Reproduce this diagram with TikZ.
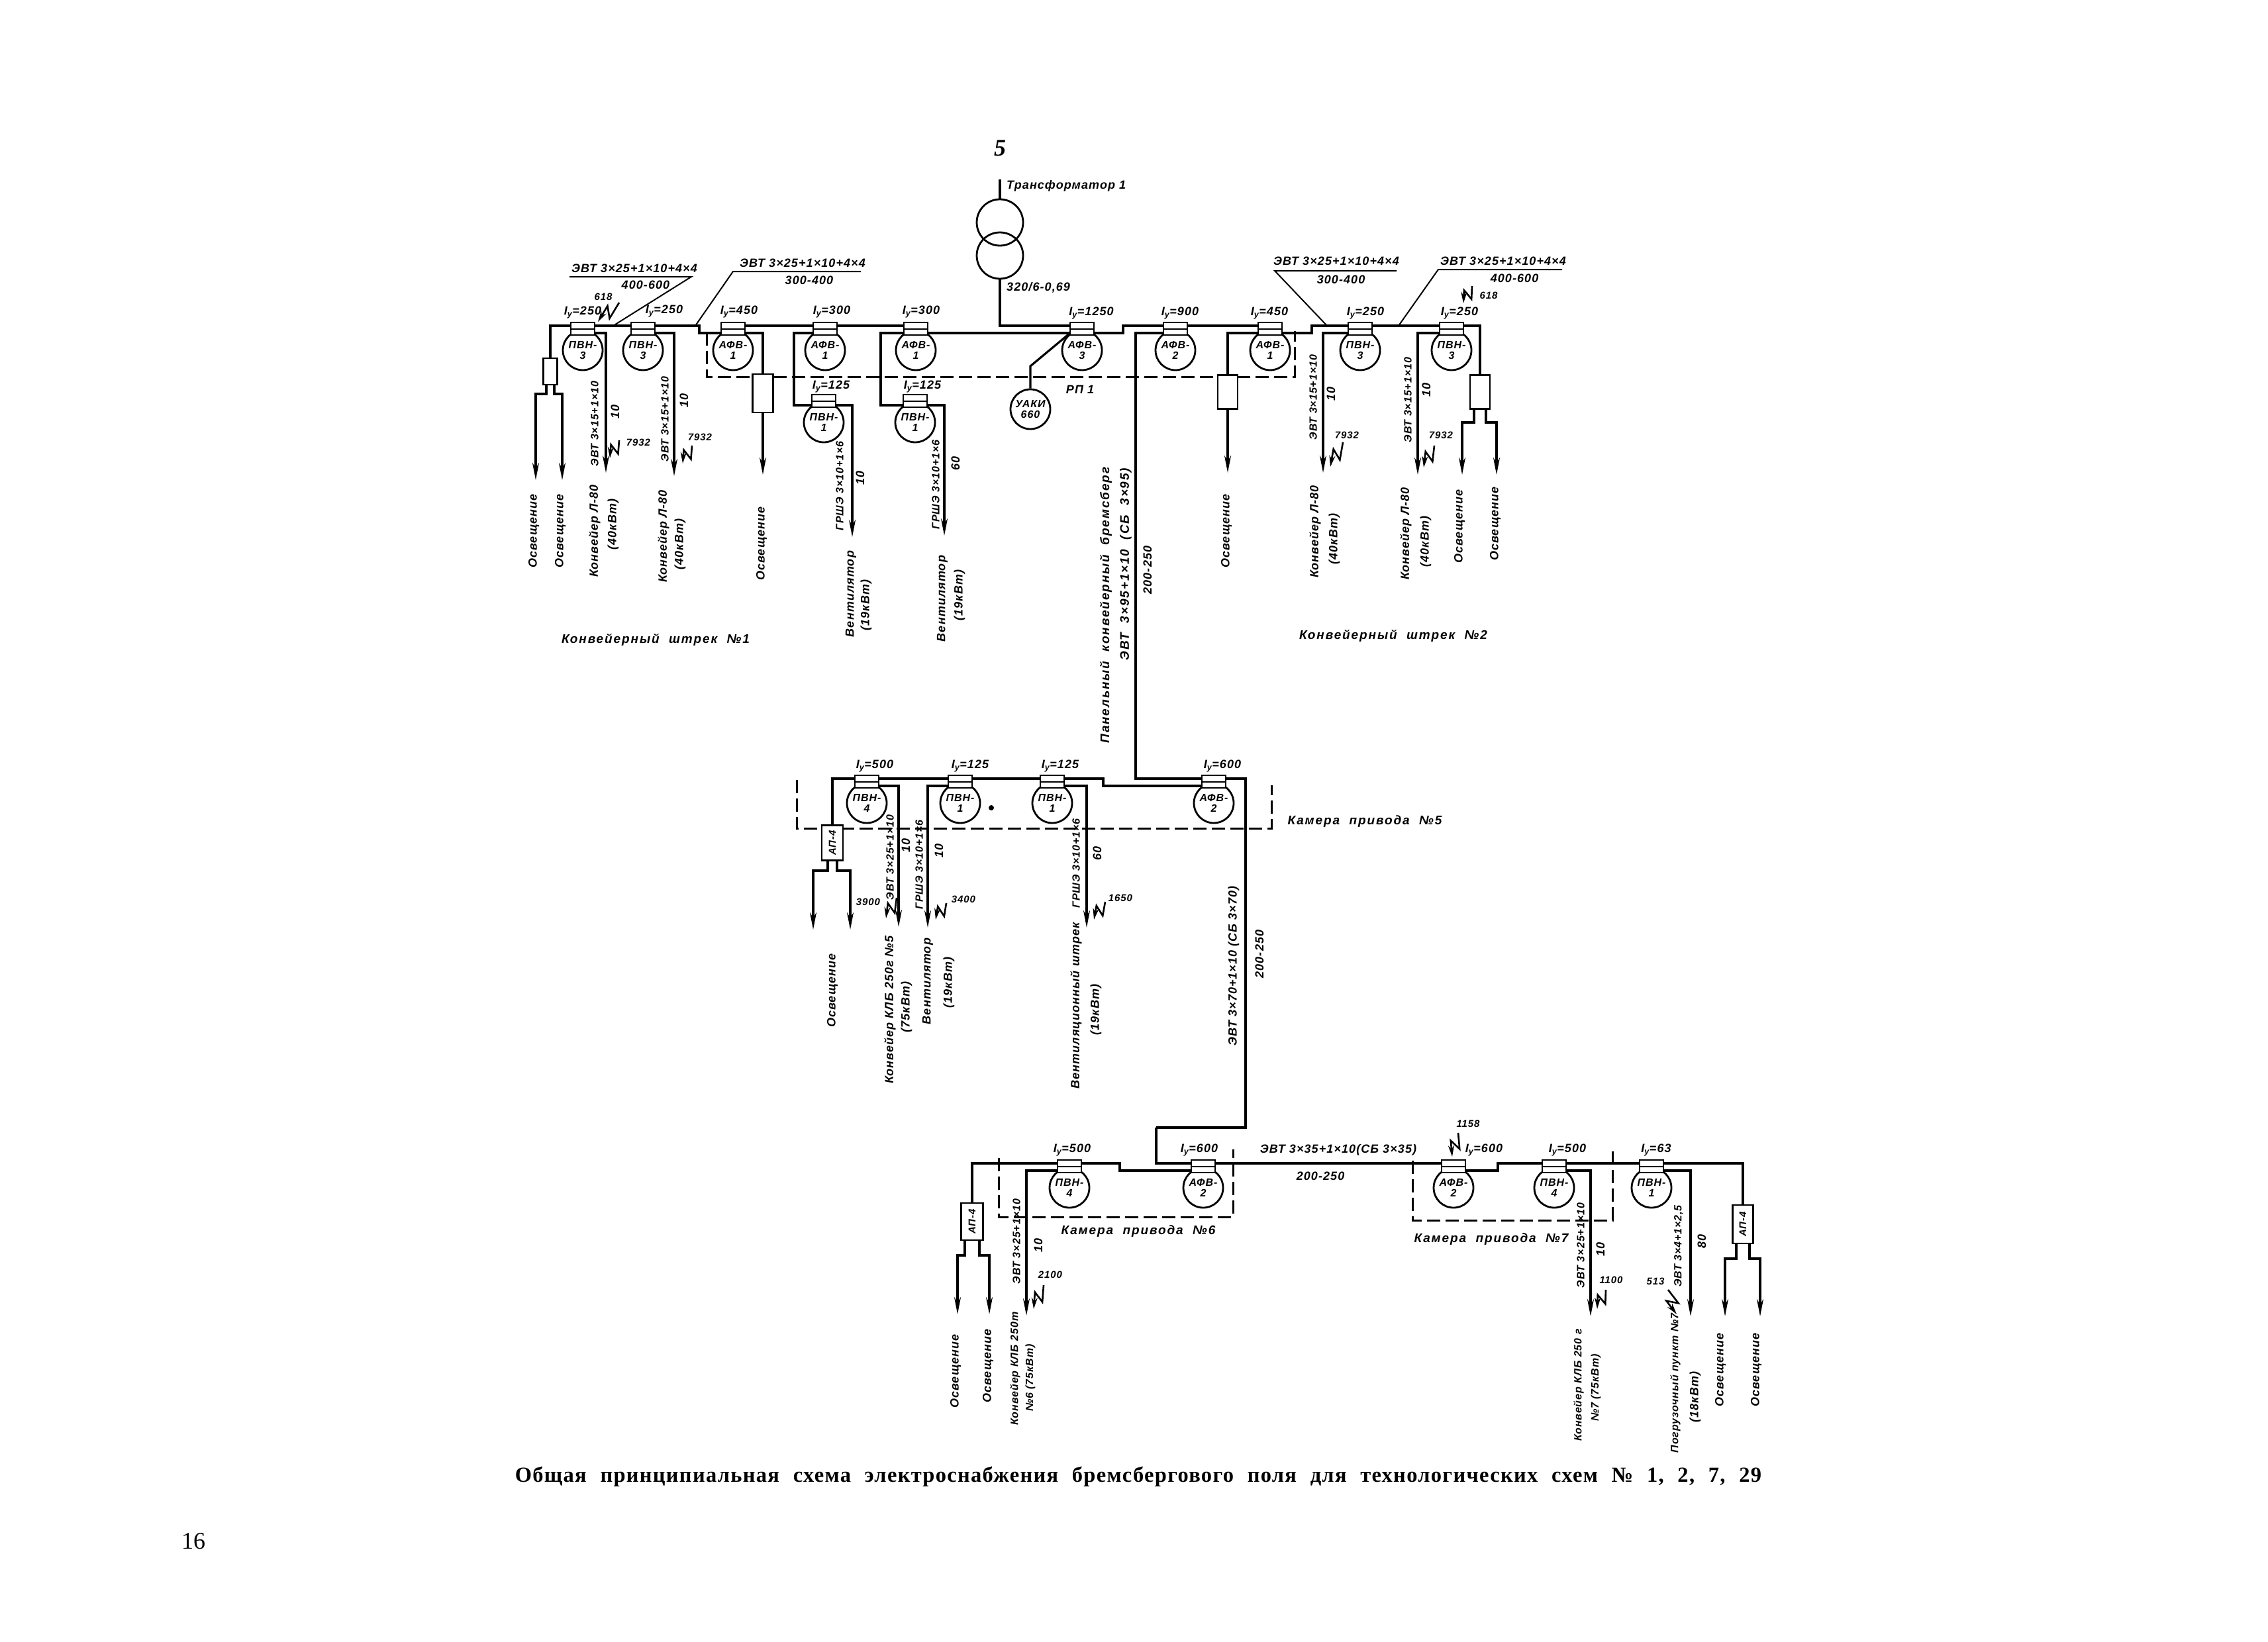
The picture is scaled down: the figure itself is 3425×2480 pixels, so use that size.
\documentclass[tikz,border=0pt]{standalone}
\usepackage{fontspec}
\setmainfont{Liberation Serif}
\newfontfamily\schem{Liberation Sans}[LetterSpace=6]
\newfontfamily\schemw{Liberation Sans}[LetterSpace=10,WordSpace=2]
\newfontfamily\capfont{Liberation Serif}[WordSpace=2.2,LetterSpace=4]
\usetikzlibrary{arrows.meta,calc}
\newcounter{labn}
\tikzset{
 txt/.style={inner sep=0pt,font=\schem\bfseries\itshape\fontsize{18}{20}\selectfont,align=center},
 narrowtxt/.style={inner sep=0pt,font=\schem\bfseries\itshape\fontsize{16}{18}\selectfont,align=center},
 widetxt/.style={inner sep=0pt,font=\schemw\bfseries\itshape\fontsize{19}{21}\selectfont,align=center},
 small/.style={inner sep=0pt,font=\schem\bfseries\itshape\fontsize{15}{16}\selectfont,align=center},
 wire/.style={line width=3.2pt,line join=miter},
 heavy/.style={line width=4.2pt},
 feed/.style={line width=3.2pt,-{Stealth[length=26pt,width=10pt]}},
 dash box/.style={line width=3pt,dash pattern=on 20pt off 8pt},
 bulbc/.style={circle,draw,line width=2.8pt,minimum size=60pt,inner sep=0pt,fill=white,font=\schem\bfseries\itshape\fontsize{16}{16}\selectfont,align=center},
 bulbb/.style={rectangle,draw,line width=2.6pt,minimum width=36pt,minimum height=19pt,inner sep=0pt,fill=white},
 lamp/.style={rectangle,draw,line width=2.8pt,inner sep=0pt,fill=white},
 leader/.style={line width=2pt},
 bolt line/.style={line width=2.6pt,-{Stealth[length=17pt,width=9pt]}}
}
\newcommand{\bulb}[5]{%
 \node[bulbc] (#1) at (#2,#3) {#4\\#5};
 \node[bulbb] (#1b) at (#2,#3-32.5) {};
 \draw[line width=2pt] (#1b.west) -- (#1b.east);
 \coordinate (#1ul) at (#2-18,#3-37);
 \coordinate (#1ur) at (#2+18,#3-37);
 \coordinate (#1ll) at (#2-18,#3-26);
 \coordinate (#1lr) at (#2+18,#3-26);
}
\newcommand{\lab}[3]{\stepcounter{labn}\node[txt] (h\thelabn) at (#1,#2) {#3};}
\newcommand{\vlab}[3]{\stepcounter{labn}\node[txt,rotate=90] (v\thelabn) at (#1,#2) {#3};}
\newcommand{\nvlab}[3]{\stepcounter{labn}\node[narrowtxt,rotate=90] (n\thelabn) at (#1,#2) {#3};}
\newcommand{\wlab}[3]{\stepcounter{labn}\node[widetxt] (w\thelabn) at (#1,#2) {#3};}
\newcommand{\wvlab}[3]{\stepcounter{labn}\node[widetxt,rotate=90] (y\thelabn) at (#1,#2) {#3};}
\newcommand{\slab}[3]{\stepcounter{labn}\node[small] (s\thelabn) at (#1,#2) {#3};}
\newcommand{\bolt}[4]{\stepcounter{labn}%
 \coordinate (ba\thelabn) at (#1,#2);
 \coordinate (bb\thelabn) at (#3,#4);
 \draw[bolt line] (ba\thelabn) -- ($(ba\thelabn)!.62!(bb\thelabn)!8pt!90:(bb\thelabn)$) -- ($(ba\thelabn)!.38!(bb\thelabn)!8pt!-90:(bb\thelabn)$) -- (bb\thelabn);}
% lamp box, two stubs, two arrows: name, left x, right x, y of bend, y of tip, half gap
\newcommand{\fork}[6]{%
 \coordinate (#1m1) at (#2,#4); \coordinate (#1m2) at (#3,#4);
 \coordinate (#1t1) at (#2,#5); \coordinate (#1t2) at (#3,#5);
 \draw[feed] ([xshift=-#6pt]#1.south) |- (#1m1) -- (#1t1);
 \draw[feed] ([xshift=#6pt]#1.south) |- (#1m2) -- (#1t2);}
\newcommand{\load}[4]{\coordinate (#2) at (#3,#4); \draw[feed] (#1) -| (#2);}
\begin{document}
\begin{tikzpicture}[x=1pt,y=-1pt]
\useasboundingbox (0,0) rectangle (3425,2480);
\fill[white] (0,0) rectangle (3425,2480);
% ---------- transformer
\node[circle,draw,line width=2.8pt,minimum size=70pt,inner sep=0pt] (tra) at (1510,336) {};
\node[circle,draw,line width=2.8pt,minimum size=70pt,inner sep=0pt] (trb) at (1510,386) {};
\coordinate (trtop) at (1510,271);
\draw[wire] (trtop) -- (tra.north);
\node[inner sep=0pt,font=\fontsize{36}{38}\selectfont\itshape\bfseries] (five) at (1510,224) {5};
\node[txt,anchor=west] (trn) at (1520,281) {Трансформатор 1};
\node[txt,anchor=west] (trv) at (1520,434) {320/6-0,69};
% ---------- upper row bulbs
\bulb{A}{880}{529}{ПВН-}{3}
\bulb{B}{971}{529}{ПВН-}{3}
\bulb{C}{1107}{529}{АФВ-}{1}
\bulb{D}{1246}{529}{АФВ-}{1}
\bulb{E}{1383}{529}{АФВ-}{1}
\bulb{F}{1244}{638}{ПВН-}{1}
\bulb{G}{1382}{638}{ПВН-}{1}
\bulb{H}{1634}{529}{АФВ-}{3}
\bulb{I}{1775}{529}{АФВ-}{2}
\bulb{J}{1918}{529}{АФВ-}{1}
\bulb{K}{2054}{529}{ПВН-}{3}
\bulb{L}{2192}{529}{ПВН-}{3}
\node[bulbc] (uaki) at (1556,618) {УАКИ\\660};
% dashed RP1
\coordinate (rp1) at (1067,502); \coordinate (rp2) at (1067,569);
\coordinate (rp3) at (1955,569); \coordinate (rp4) at (1955,500);
\draw[dash box] (rp1) -- (rp2) -- (rp3) -- (rp4);
% lamps
\node[lamp,minimum width=21pt,minimum height=40pt] (LA) at (831,561) {};
\node[lamp,minimum width=31pt,minimum height=58pt] (LC) at (1152,594) {};
\node[lamp,minimum width=30pt,minimum height=51pt] (LJ) at (1854,592) {};
\node[lamp,minimum width=30pt,minimum height=51pt] (LL) at (2235,592) {};
% bus, upper row
\draw[wire] (Aul) -| (LA.north);
\fork{LA}{809}{849}{595}{725}{6}
\draw[wire] (Aur) -- (Bul);
\coordinate (s1a) at (1056,492);
\draw[wire] (Bur) -- (s1a) |- (Cll);
\draw[wire] (Cur) -- (Dul);
\draw[wire] (Dur) -- (Eul);
\draw[heavy] (Elr) -- (Hll);
\draw[wire] (trb.south) |- (Hul);
\load{Alr}{ta}{915}{714}
\load{Blr}{tb}{1018}{719}
\draw[wire] (Clr) -| (LC.north);
\coordinate (tc) at (1152,717); \draw[feed] (LC.south) -- (tc);
\coordinate (dk) at (1199,600);
\draw[wire] (Dll) -| (dk) |- (Fll);
\coordinate (ek) at (1330,600);
\draw[wire] (Ell) -| (ek) |- (Gll);
\load{Flr}{tf}{1287}{811}
\load{Glr}{tg}{1426}{809}
% H to the right
\coordinate (s2a) at (1696,492);
\draw[wire] (Hlr) -| (s2a) -- (Iul);
\draw[wire] (Iur) -- (Jul);
\coordinate (s2b) at (1981,492);
\draw[wire] (Jlr) -| (s2b) -- (Kul);
\draw[wire] (Kur) -- (Lul);
\draw[wire] (Lur) -| (LL.north);
\fork{LL}{2208}{2260}{638}{717}{9}
\coordinate (uk) at (1556,553);
\draw[wire] (Hll) -- (uk) -- (uaki.north);
\draw[wire] (Jll) -| (LJ.north);
\coordinate (tj) at (1854,714); \draw[feed] (LJ.south) -- (tj);
\load{Kll}{tk}{1998}{714}
\load{Lll}{tl}{2141}{717}
% ---------- top leaders
\coordinate (c1a) at (860,418); \coordinate (c1b) at (1044,418); \coordinate (c1c) at (926,492);
\draw[leader] (c1a) -- (c1b) -- (c1c);
\coordinate (c2a) at (1300,410); \coordinate (c2b) at (1107,410); \coordinate (c2c) at (1050,492);
\draw[leader] (c2a) -- (c2b) -- (c2c);
\coordinate (c3a) at (2109,409); \coordinate (c3b) at (1925,409); \coordinate (c3c) at (2004,492);
\draw[leader] (c3a) -- (c3b) -- (c3c);
\coordinate (c4a) at (2359,407); \coordinate (c4b) at (2172,407); \coordinate (c4c) at (2112,492);
\draw[leader] (c4a) -- (c4b) -- (c4c);
\lab{958}{405}{ЭВТ 3×25+1×10+4×4}
\lab{975}{430}{400-600}
\lab{1212}{397}{ЭВТ 3×25+1×10+4×4}
\lab{1222}{423}{300-400}
\lab{2018}{394}{ЭВТ 3×25+1×10+4×4}
\lab{2025}{422}{300-400}
\lab{2270}{394}{ЭВТ 3×25+1×10+4×4}
\lab{2287}{420}{400-600}
\slab{911}{448}{618}
\bolt{935}{457}{903}{486}
\slab{2248}{446}{618}
\bolt{2223}{432}{2210}{458}
% I_y labels
\lab{880}{472}{I\textsubscript{у}=250}
\lab{1003}{470}{I\textsubscript{у}=250}
\lab{1116}{471}{I\textsubscript{у}=450}
\lab{1256}{471}{I\textsubscript{у}=300}
\lab{1391}{471}{I\textsubscript{у}=300}
\lab{1648}{473}{I\textsubscript{у}=1250}
\lab{1782}{473}{I\textsubscript{у}=900}
\lab{1917}{473}{I\textsubscript{у}=450}
\lab{2062}{473}{I\textsubscript{у}=250}
\lab{2204}{473}{I\textsubscript{у}=250}
\lab{1255}{584}{I\textsubscript{у}=125}
\lab{1393}{584}{I\textsubscript{у}=125}
\lab{1631}{588}{РП 1}
% rotated, upper row left
\nvlab{898}{640}{ЭВТ 3×15+1×10}
\vlab{929}{622}{10}
\slab{964}{668}{7932}
\bolt{935}{665}{921}{692}
\nvlab{1004}{633}{ЭВТ 3×15+1×10}
\vlab{1033}{605}{10}
\slab{1057}{660}{7932}
\bolt{1045}{673}{1031}{700}
\vlab{806}{802}{Освещение}
\vlab{846}{802}{Освещение}
\vlab{898}{802}{Конвейер Л-80}
\vlab{926}{792}{(40кВт)}
\vlab{1002}{810}{Конвейер Л-80}
\vlab{1027}{822}{(40кВт)}
\vlab{1150}{821}{Освещение}
\nvlab{1268}{734}{ГРШЭ 3×10+1×6}
\vlab{1299}{722}{10}
\nvlab{1413}{732}{ГРШЭ 3×10+1×6}
\vlab{1443}{700}{60}
\vlab{1285}{897}{Вентилятор}
\vlab{1308}{914}{(19кВт)}
\vlab{1423}{904}{Вентилятор}
\vlab{1449}{899}{(19кВт)}
\wlab{990}{966}{Конвейерный штрек №1}
% rotated, upper row right
\nvlab{1983}{600}{ЭВТ 3×15+1×10}
\vlab{2010}{595}{10}
\slab{2034}{657}{7932}
\bolt{2028}{668}{2009}{705}
\nvlab{2126}{604}{ЭВТ 3×15+1×10}
\vlab{2154}{589}{10}
\slab{2176}{657}{7932}
\bolt{2166}{673}{2150}{706}
\vlab{1986}{803}{Конвейер Л-80}
\vlab{2015}{814}{(40кВт)}
\vlab{2123}{806}{Конвейер Л-80}
\vlab{2153}{818}{(40кВт)}
\vlab{1852}{802}{Освещение}
\vlab{2204}{795}{Освещение}
\vlab{2258}{791}{Освещение}
\wlab{2104}{960}{Конвейерный штрек №2}
\wvlab{1670}{914}{Панельный конвейерный бремсберг}
\wvlab{1700}{852}{ЭВТ 3×95+1×10 (СБ 3×95)}
\vlab{1733}{861}{200-250}
% ---------- middle row
\bulb{M}{1309}{1213}{ПВН-}{4}
\bulb{N}{1450}{1213}{ПВН-}{1}
\bulb{O}{1589}{1213}{ПВН-}{1}
\bulb{P}{1833}{1213}{АФВ-}{2}
\coordinate (d5a) at (1203,1178); \coordinate (d5b) at (1203,1251);
\coordinate (d5c) at (1920,1251); \coordinate (d5d) at (1920,1186);
\draw[dash box] (d5a) -- (d5b) -- (d5c) -- (d5d);
\node[lamp,minimum width=32pt,minimum height=53pt] (LM) at (1257,1273) {};
\node[small,rotate=90] (LMt) at (LM) {АП-4};
\draw[wire] (Mul) -| (LM.north);
\fork{LM}{1228}{1284}{1315}{1404}{7}
\draw[wire] (Mur) -- (Nul);
\draw[wire] (Nur) -- (Oul);
\coordinate (s3) at (1666,1176);
\draw[wire] (Our) -- (s3) |- (Pll);
\load{Mlr}{tm}{1357}{1400}
\load{Nll}{tn}{1401}{1401}
\load{Olr}{to}{1641}{1401}
\coordinate (m1) at (1715,503);
\draw[heavy] (Ill) -| (m1) |- (Pul);
\coordinate (m2) at (1881,1703); \coordinate (m3) at (1746,1703);
\draw[heavy] (Pur) -| (m2) -- (m3);
\node[circle,fill,inner sep=0pt,minimum size=8pt] (dot) at (1497,1220) {};
\lab{1321}{1157}{I\textsubscript{у}=500}
\lab{1465}{1157}{I\textsubscript{у}=125}
\lab{1601}{1157}{I\textsubscript{у}=125}
\lab{1846}{1157}{I\textsubscript{у}=600}
\wlab{2061}{1241}{Камера привода №5}
\nvlab{1344}{1295}{ЭВТ 3×25+1×10}
\vlab{1368}{1277}{10}
\nvlab{1388}{1306}{ГРШЭ 3×10+1×6}
\vlab{1418}{1285}{10}
\nvlab{1625}{1304}{ГРШЭ 3×10+1×6}
\vlab{1657}{1289}{60}
\slab{1311}{1362}{3900}
\bolt{1354}{1356}{1338}{1387}
\slab{1455}{1358}{3400}
\bolt{1429}{1364}{1413}{1389}
\slab{1692}{1356}{1650}
\bolt{1669}{1362}{1652}{1389}
\vlab{1257}{1496}{Освещение}
\vlab{1344}{1525}{Конвейер КЛБ 250г №5}
\vlab{1369}{1521}{(75кВт)}
\vlab{1401}{1482}{Вентилятор}
\vlab{1433}{1484}{(19кВт)}
\vlab{1625}{1519}{Вентиляционный штрек}
\vlab{1655}{1525}{(19кВт)}
\vlab{1863}{1459}{ЭВТ 3×70+1×10 (СБ 3×70)}
\vlab{1902}{1441}{200-250}
% ---------- bottom row
\bulb{Q}{1615}{1794}{ПВН-}{4}
\bulb{R}{1817}{1794}{АФВ-}{2}
\bulb{S}{2195}{1794}{АФВ-}{2}
\bulb{T}{2347}{1794}{ПВН-}{4}
\bulb{U}{2494}{1794}{ПВН-}{1}
\coordinate (d6a) at (1508,1749); \coordinate (d6b) at (1508,1838);
\coordinate (d6c) at (1862,1838); \coordinate (d6d) at (1862,1736);
\draw[dash box] (d6a) -- (d6b) -- (d6c) -- (d6d);
\coordinate (d7a) at (2133,1753); \coordinate (d7b) at (2133,1843);
\coordinate (d7c) at (2435,1843); \coordinate (d7d) at (2435,1734);
\draw[dash box] (d7a) -- (d7b) -- (d7c) -- (d7d);
\node[lamp,minimum width=33pt,minimum height=56pt] (LQ) at (1468,1845) {};
\node[small,rotate=90] (LQt) at (LQ) {АП-4};
\node[lamp,minimum width=31pt,minimum height=58pt] (LU) at (2632,1849) {};
\node[small,rotate=90] (LUt) at (LU) {АП-4};
\draw[wire] (Qul) -| (LQ.north);
\fork{LQ}{1446}{1494}{1896}{1985}{11}
\coordinate (s4) at (1691,1757);
\draw[wire] (Qur) -- (s4) |- (Rll);
\draw[heavy] (m3) |- (Rul);
\draw[heavy] (Rur) -- (Sul);
\coordinate (s5) at (2262,1757);
\draw[wire] (Slr) -| (s5) -- (Tul);
\draw[wire] (Tur) -- (Uul);
\draw[wire] (Uur) -| (LU.north);
\fork{LU}{2605}{2658}{1901}{1988}{10}
\load{Qll}{tq}{1550}{1987}
\load{Tlr}{tt}{2402}{1988}
\load{Ulr}{tu}{2553}{1988}
\lab{1619}{1737}{I\textsubscript{у}=500}
\lab{1811}{1737}{I\textsubscript{у}=600}
\lab{2241}{1737}{I\textsubscript{у}=600}
\lab{2367}{1737}{I\textsubscript{у}=500}
\lab{2501}{1737}{I\textsubscript{у}=63}
\lab{2021}{1737}{ЭВТ 3×35+1×10(СБ 3×35)}
\lab{1994}{1776}{200-250}
\wlab{1719}{1860}{Камера привода №6}
\wlab{2252}{1872}{Камера привода №7}
\nvlab{1535}{1875}{ЭВТ 3×25+1×10}
\vlab{1568}{1881}{10}
\slab{1586}{1925}{2100}
\bolt{1576}{1941}{1561}{1977}
\slab{2217}{1697}{1158}
\bolt{2202}{1711}{2193}{1747}
\nvlab{2387}{1881}{ЭВТ 3×25+1×10}
\vlab{2417}{1887}{10}
\slab{2433}{1933}{1100}
\bolt{2425}{1948}{2412}{1977}
\slab{2500}{1935}{513}
\bolt{2519}{1948}{2532}{1985}
\nvlab{2535}{1882}{ЭВТ 3×4+1×2,5}
\vlab{2570}{1875}{80}
\vlab{1443}{2071}{Освещение}
\vlab{1492}{2063}{Освещение}
\nvlab{1533}{2067}{Конвейер КЛБ 250т}
\nvlab{1556}{2081}{№6 (75кВт)}
\nvlab{2384}{2092}{Конвейер КЛБ 250 г}
\nvlab{2410}{2096}{№7 (75кВт)}
\nvlab{2530}{2089}{Погрузочный пункт №7}
\vlab{2560}{2110}{(18кВт)}
\vlab{2598}{2069}{Освещение}
\vlab{2652}{2069}{Освещение}
% ---------- caption and page number
\node[inner sep=0pt,font=\capfont\bfseries\fontsize{32.5}{36}\selectfont] (cap) at (1719,2230) {Общая принципиальная схема электроснабжения бремсбергового поля для технологических схем № 1, 2, 7, 29};
\node[inner sep=0pt,font=\fontsize{36}{38}\selectfont] (pg) at (292,2328) {16};
\end{tikzpicture}
\end{document}
